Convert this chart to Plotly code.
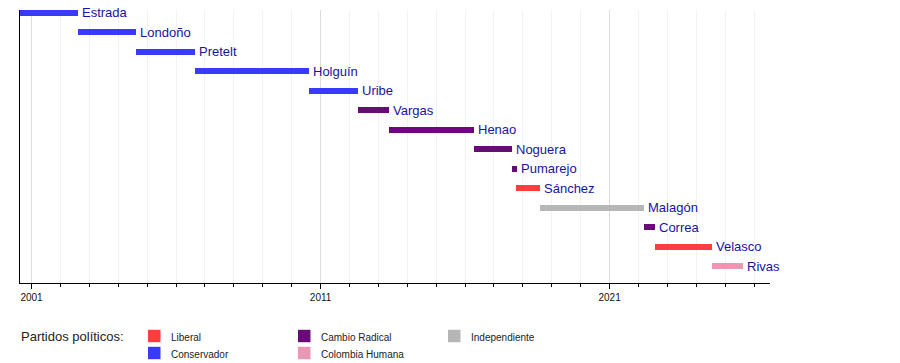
import plotly.graph_objects as go

# ---- data ----
names = ["Estrada", "Londoño", "Pretelt", "Holguín", "Uribe", "Vargas", "Henao",
         "Noguera", "Pumarejo", "Sánchez", "Malagón", "Correa", "Velasco", "Rivas"]
starts = [2000.6, 2002.59, 2004.62, 2006.66, 2010.6, 2012.28, 2013.37,
          2016.31, 2017.62, 2017.76, 2018.59, 2022.19, 2022.57, 2024.54]
ends = [2002.59, 2004.62, 2006.66, 2010.6, 2012.28, 2013.37, 2016.31,
        2017.62, 2017.78, 2018.59, 2022.19, 2022.57, 2024.56, 2025.63]
parties = ["Conservador", "Conservador", "Conservador", "Conservador", "Conservador",
           "Cambio Radical", "Cambio Radical", "Cambio Radical", "Cambio Radical",
           "Liberal", "Independiente", "Cambio Radical", "Liberal", "Colombia Humana"]

party_names = ["Liberal", "Conservador", "Cambio Radical", "Colombia Humana", "Independiente"]
party_colors = ["#ff3d3d", "#3a3aff", "#6a0a78", "#eb96b2", "#b6b6b6"]

major_ticks = [2001, 2011, 2021]
x_range = [2000.6, 2026.55]

# ---- layout constants (page body margin removed via post_script) ----
W, H = 900, 363
ML, MT = 20, 10
PW, PH = 750, 273
MR = W - ML - PW
MB = H - MT - PH

def px(x):  # page pixel -> paper
    return (x - ML) / PW

def py(y):
    return (MT + PH - y) / PH

color_of = dict(zip(party_names, party_colors))
rows = list(range(len(names)))

fig = go.Figure()
for p in party_names:
    idx = [i for i in rows if parties[i] == p]
    fig.add_trace(go.Bar(
        orientation="h",
        y=[rows[i] for i in idx],
        base=[starts[i] for i in idx],
        x=[ends[i] - starts[i] for i in idx],
        width=0.3,
        marker=dict(color=color_of[p], line=dict(width=0)),
        showlegend=False,
        hoverinfo="skip",
    ))

annotations = []
for i in rows:
    annotations.append(dict(
        x=ends[i], y=rows[i], xref="x", yref="y",
        text=names[i], showarrow=False, xanchor="left", yanchor="middle",
        xshift=2, font=dict(family="Liberation Sans, Arial", size=13, color="#1414a0"),
    ))

# legend
annotations.append(dict(
    x=px(19), y=py(336.5), xref="paper", yref="paper", text="Partidos políticos:",
    showarrow=False, xanchor="left", yanchor="middle",
    font=dict(family="Liberation Sans, Arial", size=13, color="#222222"),
))
leg_pos = [(148, 336), (148, 353), (298, 336), (298, 353), (448, 336)]
shapes = []
for (lx, ly), name, col in zip(leg_pos, party_names, party_colors):
    shapes.append(dict(type="rect", xref="paper", yref="paper",
                       x0=px(lx), x1=px(lx + 12.5), y0=py(ly + 6.2), y1=py(ly - 6.2),
                       fillcolor=col, line=dict(width=0), layer="above"))
    annotations.append(dict(
        x=px(lx + 21), y=py(ly + 1.5), xref="paper", yref="paper", text=name,
        showarrow=False, xanchor="left", yanchor="middle",
        font=dict(family="Liberation Sans, Arial", size=10, color="#222222"),
    ))

fig.update_layout(
    width=W, height=H,
    margin=dict(l=ML, r=MR, t=MT, b=MB, pad=0),
    paper_bgcolor="white", plot_bgcolor="white",
    bargap=0, barmode="overlay",
    annotations=annotations, shapes=shapes,
    xaxis=dict(
        range=x_range, tickmode="array", tickvals=major_ticks,
        ticktext=[str(t) for t in major_ticks],
        ticks="outside", ticklen=5, tickcolor="black", tickwidth=1,
        showline=True, linecolor="black", linewidth=1,
        showgrid=True, gridcolor="#dcdcdc", gridwidth=1, zeroline=False,
        tickfont=dict(family="Liberation Sans, Arial", size=10, color="#111111"),
        minor=dict(tick0=2001, dtick=1, ticks="outside", ticklen=3, tickcolor="black",
                   showgrid=True, gridcolor="#f2f2f2", gridwidth=1),
        fixedrange=True,
    ),
    yaxis=dict(
        range=[13.86, -0.15], showticklabels=False, ticks="",
        showline=True, linecolor="black", linewidth=1,
        showgrid=False, zeroline=False, fixedrange=True,
    ),
)

fig.write_html(
    "out.html",
    config={"displayModeBar": False},
    post_script="document.body.style.margin='0';document.body.style.overflow='hidden';",
)
